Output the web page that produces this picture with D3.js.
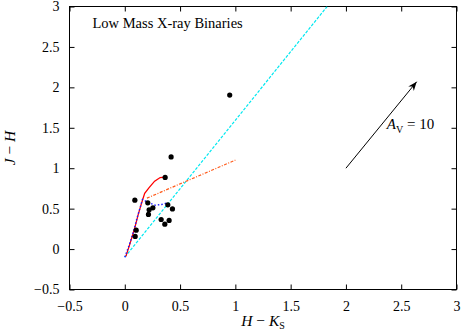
<!DOCTYPE html>
<html>
<head>
<meta charset="utf-8">
<script src="https://cdn.jsdelivr.net/npm/d3@7"></script>
<style>
  body { margin: 0; background: #fff; }
  text { font-family: 'Liberation Serif', 'DejaVu Serif', serif !important; fill: #000; }
</style>
</head>
<body>
<svg id="chart" width="463" height="335"></svg>
<script>
// LMXB counterparts, (H-Ks, J-H)
const sources = [
  [0.419, 1.14], [0.365, 0.886], [0.091, 0.605], [0.208, 0.572], [0.254, 0.51],
  [0.22, 0.485], [0.214, 0.428], [0.389, 0.547], [0.431, 0.497], [0.329, 0.366],
  [0.401, 0.354], [0.362, 0.308], [0.103, 0.234], [0.094, 0.156], [0.949, 1.905]
];
// giant branch (red, solid)
const giantLocus = [
  [0.01, -0.09], [0.05, 0.08], [0.09, 0.26], [0.12, 0.42], [0.15, 0.56],
  [0.18, 0.69], [0.22, 0.76], [0.27, 0.84], [0.32, 0.885], [0.36, 0.89]
];
// dwarf branch (blue, dotted)
const dwarfLocus = [
  [0.0, -0.1], [0.04, 0.05], [0.08, 0.22], [0.11, 0.38], [0.14, 0.52],
  [0.16, 0.614], [0.214, 0.576], [0.275, 0.543], [0.335, 0.552], [0.386, 0.572]
];
// CTTS locus (orange, dash-dot)
const cttsLocus = [[0.2, 0.63], [1.0, 1.1]];
// reddening line (cyan, dashed)
const reddeningLine = [[0.0, -0.1], [1.83, 3.0]];
// A_V = 10 vector
const avVector = [[2.0, 1.0], [2.64, 2.07]];
const xTicks = [-0.5, 0, 0.5, 1, 1.5, 2, 2.5, 3];
const yTicks = [-0.5, 0, 0.5, 1, 1.5, 2, 2.5, 3];

const svg = d3.select('#chart');
const margin = {left: 69.5, right: 6.5, top: 6.5, bottom: 45.5};
const width = 463, height = 335;
const innerWidth = width - margin.left - margin.right;
const innerHeight = height - margin.top - margin.bottom;
const serif = "'Liberation Serif', 'DejaVu Serif', serif";

const xScale = d3.scaleLinear().domain([-0.5, 3]).range([0, innerWidth]);
const yScale = d3.scaleLinear().domain([-0.5, 3]).range([innerHeight, 0]);

svg.append('defs').append('clipPath').attr('id', 'clip')
  .append('rect').attr('width', innerWidth).attr('height', innerHeight);

const g = svg.append('g').attr('transform', `translate(${margin.left},${margin.top})`);

const fmt = d => d < 0 ? '\u2212' + Math.abs(d) : String(d);

// axes, ticks inward on all four sides
const xAxis = d3.axisBottom(xScale).tickValues(xTicks).tickSize(-5).tickPadding(12).tickFormat(fmt);
const yAxis = d3.axisLeft(yScale).tickValues(yTicks).tickSize(-5).tickPadding(10).tickFormat(fmt);

g.append('g').attr('transform', `translate(0,${innerHeight})`).call(xAxis);
g.append('g').call(yAxis);
// mirrored ticks, no labels
g.append('g').call(d3.axisTop(xScale).tickValues(xTicks).tickSize(-5))
  .selectAll('text').remove();
g.append('g').attr('transform', `translate(${innerWidth},0)`)
  .call(d3.axisRight(yScale).tickValues(yTicks).tickSize(-5))
  .selectAll('text').remove();

g.selectAll('.domain').remove();
g.selectAll('.tick line').attr('stroke', '#000');
g.selectAll('g').attr('font-family', serif).attr('font-size', 14);

g.append('rect')
  .attr('width', innerWidth).attr('height', innerHeight)
  .attr('fill', 'none').attr('stroke', '#000').attr('stroke-width', 1);

const line = d3.line().x(d => xScale(d[0])).y(d => yScale(d[1]));
const plot = g.append('g').attr('clip-path', 'url(#clip)');

plot.append('path').datum(reddeningLine).attr('d', line)
  .attr('fill', 'none').attr('stroke', '#00e8f0').attr('stroke-width', 1.2)
  .attr('stroke-dasharray', '3,1.5');

plot.append('path').datum(cttsLocus).attr('d', line)
  .attr('fill', 'none').attr('stroke', '#ff5a1a').attr('stroke-width', 1.2)
  .attr('stroke-dasharray', '3,1.5,1,1.5');

plot.append('path').datum(giantLocus).attr('d', line)
  .attr('fill', 'none').attr('stroke', '#ff0000').attr('stroke-width', 1.3);

plot.append('path').datum(dwarfLocus).attr('d', line)
  .attr('fill', 'none').attr('stroke', '#1a1aff').attr('stroke-width', 1.4)
  .attr('stroke-dasharray', '1.5,2');

plot.selectAll('circle').data(sources).enter().append('circle')
  .attr('cx', d => xScale(d[0]))
  .attr('cy', d => yScale(d[1]))
  .attr('r', 2.6)
  .attr('fill', '#000');

// extinction vector
svg.append('defs').append('marker')
  .attr('id', 'arrow').attr('viewBox', '0 0 10 10')
  .attr('refX', 10).attr('refY', 5)
  .attr('markerWidth', 9).attr('markerHeight', 9)
  .attr('markerUnits', 'userSpaceOnUse')
  .attr('orient', 'auto')
  .append('path').attr('d', 'M0,1 L10,5 L0,9 L3,5 Z').attr('fill', '#000');

g.append('path').datum(avVector).attr('d', line)
  .attr('fill', 'none').attr('stroke', '#000').attr('stroke-width', 1)
  .attr('marker-end', 'url(#arrow)');

const avLabel = g.append('text')
  .attr('x', xScale(2.37)).attr('y', yScale(1.55) + 5)
  .attr('font-family', serif).attr('font-size', 15);
avLabel.append('tspan').attr('font-style', 'italic').text('A');
avLabel.append('tspan').attr('dy', 4).attr('font-size', 10).text('V');
avLabel.append('tspan').attr('dy', -4).text(' = 10');

// title
g.append('text')
  .attr('x', 23).attr('y', 21)
  .attr('font-family', serif).attr('font-size', 14.5)
  .text('Low Mass X-ray Binaries');

// axis labels
const xLabel = svg.append('text')
  .attr('x', margin.left + innerWidth / 2).attr('y', 326)
  .attr('text-anchor', 'middle')
  .attr('font-family', serif).attr('font-size', 15.5);
xLabel.append('tspan').attr('font-style', 'italic').text('H');
xLabel.append('tspan').text(' \u2212 ');
xLabel.append('tspan').attr('font-style', 'italic').text('K');
xLabel.append('tspan').attr('dy', 3).attr('font-size', 10).text('S');

const yLabel = svg.append('text')
  .attr('transform', `translate(15,${margin.top + innerHeight / 2}) rotate(-90)`)
  .attr('text-anchor', 'middle')
  .attr('font-family', serif).attr('font-size', 15.5);
yLabel.append('tspan').attr('font-style', 'italic').text('J');
yLabel.append('tspan').text(' \u2212 ');
yLabel.append('tspan').attr('font-style', 'italic').text('H');
</script>
</body>
</html>
